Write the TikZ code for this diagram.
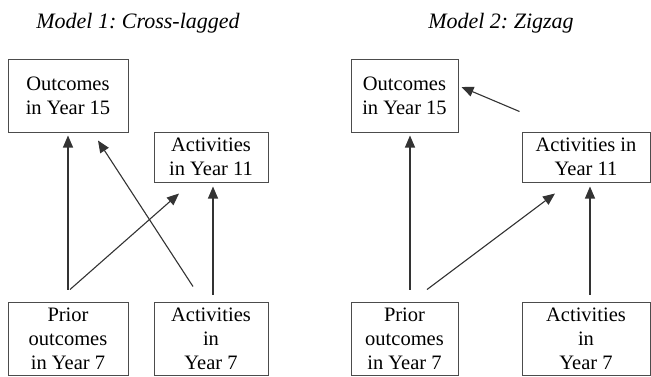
\documentclass[tikz,border=0pt]{standalone}
\usepackage{fontspec}
\setmainfont{Liberation Serif}
\usetikzlibrary{arrows, arrows.meta, positioning, calc}
\frenchspacing

\begin{document}
\begin{tikzpicture}[x=1pt, y=-1pt, >={Triangle[length=12pt, width=10pt]},
    box/.style={draw=black!70, line width=1pt, align=center, inner sep=0pt,
      font=\fontsize{20.5}{24}\selectfont},
    link/.style={->, draw=black!80, line width=1.1pt},
    title/.style={font=\fontsize{22}{26}\selectfont\itshape}]
  \useasboundingbox (0,0) rectangle (651,376);

  % Model 1: cross-lagged paths
  \node[title] (title1) at (138,23) {Model 1: Cross-lagged};
  \node[box, minimum width=120pt, minimum height=73pt] (out1) at (68,95.5) {Outcomes\\in Year 15};
  \node[box, minimum width=114pt, minimum height=50pt] (act11a) at (211,157) {Activities\\in Year 11};
  \node[box, minimum width=120pt, minimum height=73pt] (prior1) at (68,338.5) {Prior\\outcomes\\in Year 7};
  \node[box, minimum width=114pt, minimum height=73pt] (act7a) at (211,338.5) {Activities\\in\\Year 7};

  \draw[link] ([yshift=12pt]prior1.north) -- ([yshift=-3pt]out1.south);
  \draw[link] ([xshift=-18pt, yshift=15pt]act7a.north) -- ([xshift=30pt, yshift=-8pt]out1.south);
  \draw[link] ([xshift=2pt, yshift=12pt]prior1.north) -- ([xshift=-32pt, yshift=-11pt]act11a.south);
  \draw[link] ([xshift=2pt, yshift=7pt]act7a.north) -- ([xshift=2pt, yshift=-4pt]act11a.south);

  % Model 2: zigzag paths
  \node[title] (title2) at (501,23) {Model 2: Zigzag};
  \node[box, minimum width=107pt, minimum height=73pt] (out2) at (404.5,95.5) {Outcomes\\in Year 15};
  \node[box, minimum width=128pt, minimum height=50pt] (act11b) at (586,157) {Activities in\\Year 11};
  \node[box, minimum width=107pt, minimum height=73pt] (prior2) at (404.5,338.5) {Prior\\outcomes\\in Year 7};
  \node[box, minimum width=128pt, minimum height=73pt] (act7b) at (586,338.5) {Activities\\in\\Year 7};

  \draw[link] ([xshift=-2pt, yshift=20pt]act11b.north west) -- ([xshift=3pt, yshift=8.5pt]out2.east);
  \draw[link] ([xshift=5.5pt, yshift=12pt]prior2.north) -- ([xshift=5.5pt, yshift=-3pt]out2.south);
  \draw[link] ([xshift=22.5pt, yshift=12pt]prior2.north) -- ([xshift=-31pt, yshift=-11pt]act11b.south);
  \draw[link] ([xshift=4pt, yshift=7pt]act7b.north) -- ([xshift=4pt, yshift=-4pt]act11b.south);
\end{tikzpicture}
\end{document}
